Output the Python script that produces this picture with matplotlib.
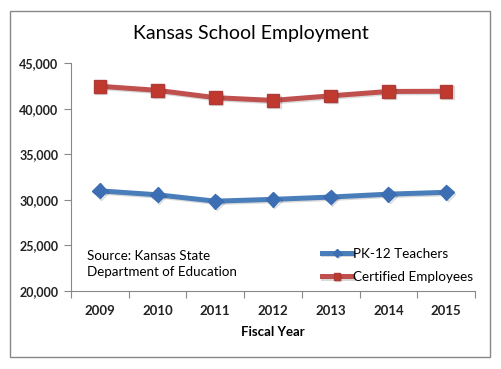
import matplotlib
matplotlib.use("Agg")
import matplotlib.pyplot as plt
import matplotlib.patheffects as pe
from matplotlib.ticker import FuncFormatter, FixedLocator
import numpy as np

years = ["2009", "2010", "2011", "2012", "2013", "2014", "2015"]
teachers = [30980, 30550, 29850, 30050, 30300, 30620, 30820]
certified = [42450, 42000, 41200, 40900, 41400, 41880, 41900]

plt.rcParams['font.family'] = ['Lato', 'DejaVu Sans']

fig = plt.figure(figsize=(5.01, 3.69), dpi=100)
# outer chart border
fig.patches.append(plt.Rectangle((10 / 501, 1 - 357 / 369), 480 / 501, 346 / 369,
                                 transform=fig.transFigure, fill=False,
                                 edgecolor="#888888", linewidth=1.0))

ax = fig.add_axes([71 / 501, 1 - 291 / 369, 404 / 501, 228 / 369])
x = np.arange(len(years))

shadow = [pe.SimpleLineShadow(offset=(1.0, -1.0), alpha=0.15, shadow_color="k"), pe.Normal()]
ax.plot(x, teachers, color="#4A7EBB", linewidth=3.6, marker="D", markersize=7.5,
        markerfacecolor="#3C6EB4", markeredgecolor="#3C6EB4",
        label="PK-12 Teachers", path_effects=shadow)
ax.plot(x, certified, color="#C0504D", linewidth=3.6, marker="s", markersize=9,
        markerfacecolor="#C0392F", markeredgecolor="#B03A36",
        label="Certified Employees", path_effects=shadow)

ax.set_xlim(-0.5, len(years) - 0.5)
ax.set_ylim(20000, 45000)
ax.set_yticks(np.arange(20000, 45001, 5000))
ax.yaxis.set_major_formatter(FuncFormatter(lambda v, p: f"{int(v):,}"))
ax.xaxis.set_major_locator(FixedLocator(np.arange(-0.5, len(years), 1.0)))
ax.xaxis.set_major_formatter(FuncFormatter(lambda v, p: ""))
for i, yr in enumerate(years):
    ax.text(i, -0.087, yr, transform=ax.get_xaxis_transform(), ha="center", va="center",
            fontsize=9.5, fontweight="bold", color="#222222")
ax.text(0.5, -0.18, "Fiscal Year", transform=ax.transAxes, ha="center", va="center",
        fontsize=9.5, fontweight="bold")

for s in ["top", "right"]:
    ax.spines[s].set_visible(False)
for s in ["left", "bottom"]:
    ax.spines[s].set_color("#888888")
ax.tick_params(axis="both", direction="out", length=5, color="#888888")
ax.tick_params(axis="y", labelsize=9, pad=4)
for lab in ax.get_yticklabels():
    lab.set_fontweight("bold")
    lab.set_color("#222222")

ax.text(87 / 501, 1 - 264 / 369, "Source: Kansas State\nDepartment of Education",
        transform=fig.transFigure, ha="left", va="center", fontsize=9.6, linespacing=1.4)

fig.text(0.5, 1 - 33 / 369, "Kansas School Employment", ha="center", va="center", fontsize=14)

leg = ax.legend(loc="upper left", bbox_to_anchor=(251 / 404, 0.19), frameon=False,
                fontsize=9.7, handlelength=2.2, handletextpad=0.1, labelspacing=0.85,
                markerscale=0.5, borderaxespad=0, borderpad=0)

fig.savefig("out.png", dpi=100)
